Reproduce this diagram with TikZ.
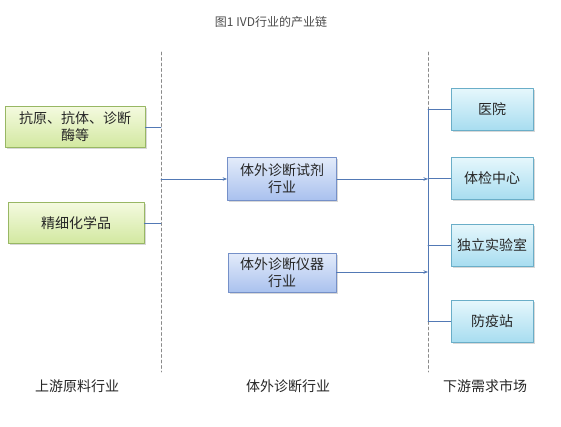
\documentclass[tikz,border=0pt]{standalone}
\usepackage{fontspec}
\newfontfamily\cjk{Noto Sans CJK SC}
\usetikzlibrary{arrows.meta,shadows}
\definecolor{linkblue}{HTML}{5279B5}
\definecolor{dashgray}{HTML}{8A8A8A}
\definecolor{upedge}{HTML}{98B764}
\definecolor{uptop}{HTML}{F4FADF}
\definecolor{upbot}{HTML}{D2E8A0}
\definecolor{midedge}{HTML}{7590C8}
\definecolor{midtop}{HTML}{E3EBFA}
\definecolor{midbot}{HTML}{A9C1EE}
\definecolor{downedge}{HTML}{6AAEC8}
\definecolor{downtop}{HTML}{E6F7FC}
\definecolor{downbot}{HTML}{A8DDF0}
\tikzset{
  box/.style={draw, rectangle, align=center, font=\cjk\fontsize{14}{17}\selectfont,
    text=black!85, inner sep=1pt, line width=0.8pt,
    drop shadow={shadow xshift=1.5pt, shadow yshift=-1.5pt, opacity=0.3}},
  upbox/.style={box, draw=upedge, top color=uptop, bottom color=upbot},
  midbox/.style={box, draw=midedge, top color=midtop, bottom color=midbot},
  downbox/.style={box, draw=downedge, top color=downtop, bottom color=downbot},
  link/.style={linkblue, line width=0.8pt},
  linkarrow/.style={link, -{Stealth[length=4.5pt,width=3.5pt]}},
  divider/.style={dashgray, dash pattern=on 3pt off 2.5pt, line width=0.6pt},
  caption/.style={font=\cjk\fontsize{14}{16}\selectfont, text=black!85}
}

\begin{document}
\begin{tikzpicture}[x=1pt, y=-1pt, line cap=round, line join=round]

  % page frame (pixel grid of the original, y downward)
  \useasboundingbox[fill=white] (0,0) rectangle (561,426);

  % title
  \node[font=\cjk\fontsize{12}{14}\selectfont, text=black!70] (title) at (271,22) {图1 IVD行业的产业链};

  % column dividers
  \coordinate (lTop) at (161,52);
  \coordinate (lBot) at (161,372);
  \coordinate (rTop) at (428,52);
  \coordinate (rBot) at (428,372);
  \draw[divider] (lTop) -- (lBot);
  \draw[divider] (rTop) -- (rBot);

  % upstream: raw materials
  \node[upbox, minimum width=140pt, minimum height=41pt] (antigen) at (75,127) {抗原、抗体、诊断\\酶等};
  \node[upbox, minimum width=136pt, minimum height=41pt] (chem) at (76,223) {精细化学品};

  % midstream: IVD industry
  \node[midbox, minimum width=109pt, minimum height=43pt] (reagent) at (282,179) {体外诊断试剂\\行业};
  \node[midbox, minimum width=108pt, minimum height=39pt] (instr) at (282,273) {体外诊断仪器\\行业};

  % downstream: demand market
  \node[downbox, minimum width=82pt, minimum height=42pt] (hosp) at (492,109) {医院};
  \node[downbox, minimum width=82pt, minimum height=42pt] (check) at (492,178) {体检中心};
  \node[downbox, minimum width=82pt, minimum height=42pt] (lab) at (492,245) {独立实验室};
  \node[downbox, minimum width=82pt, minimum height=42pt] (epi) at (492,321) {防疫站};

  % joints on the dividers
  \coordinate (antigenIn) at (161,127);
  \coordinate (chemIn) at (161,223);
  \coordinate (midOut) at (161,179);
  \coordinate (reagentIn) at (428,179);
  \coordinate (instrIn) at (428,272);
  \coordinate (trunkTop) at (428,109);
  \coordinate (trunkBot) at (428,321);

  % upstream feeds
  \draw[link] (antigen.east |- antigenIn) -- (antigenIn);
  \draw[link] (chem) -- (chemIn);
  \draw[linkarrow] (midOut) -- (reagent);

  % midstream feeds
  \draw[linkarrow] (reagent) -- (reagentIn);
  \draw[linkarrow] (instr.east |- instrIn) -- (instrIn);

  % downstream trunk and branches
  \draw[link] (trunkTop) -- (trunkBot);
  \foreach \dst in {hosp, check, lab, epi}
    \draw[link] (trunkTop |- \dst) -- (\dst);

  % column captions
  \node[caption] (upCap) at (77,386) {上游原料行业};
  \node[caption] (midCap) at (288,386) {体外诊断行业};
  \node[caption] (downCap) at (485,386) {下游需求市场};
\end{tikzpicture}
\end{document}
